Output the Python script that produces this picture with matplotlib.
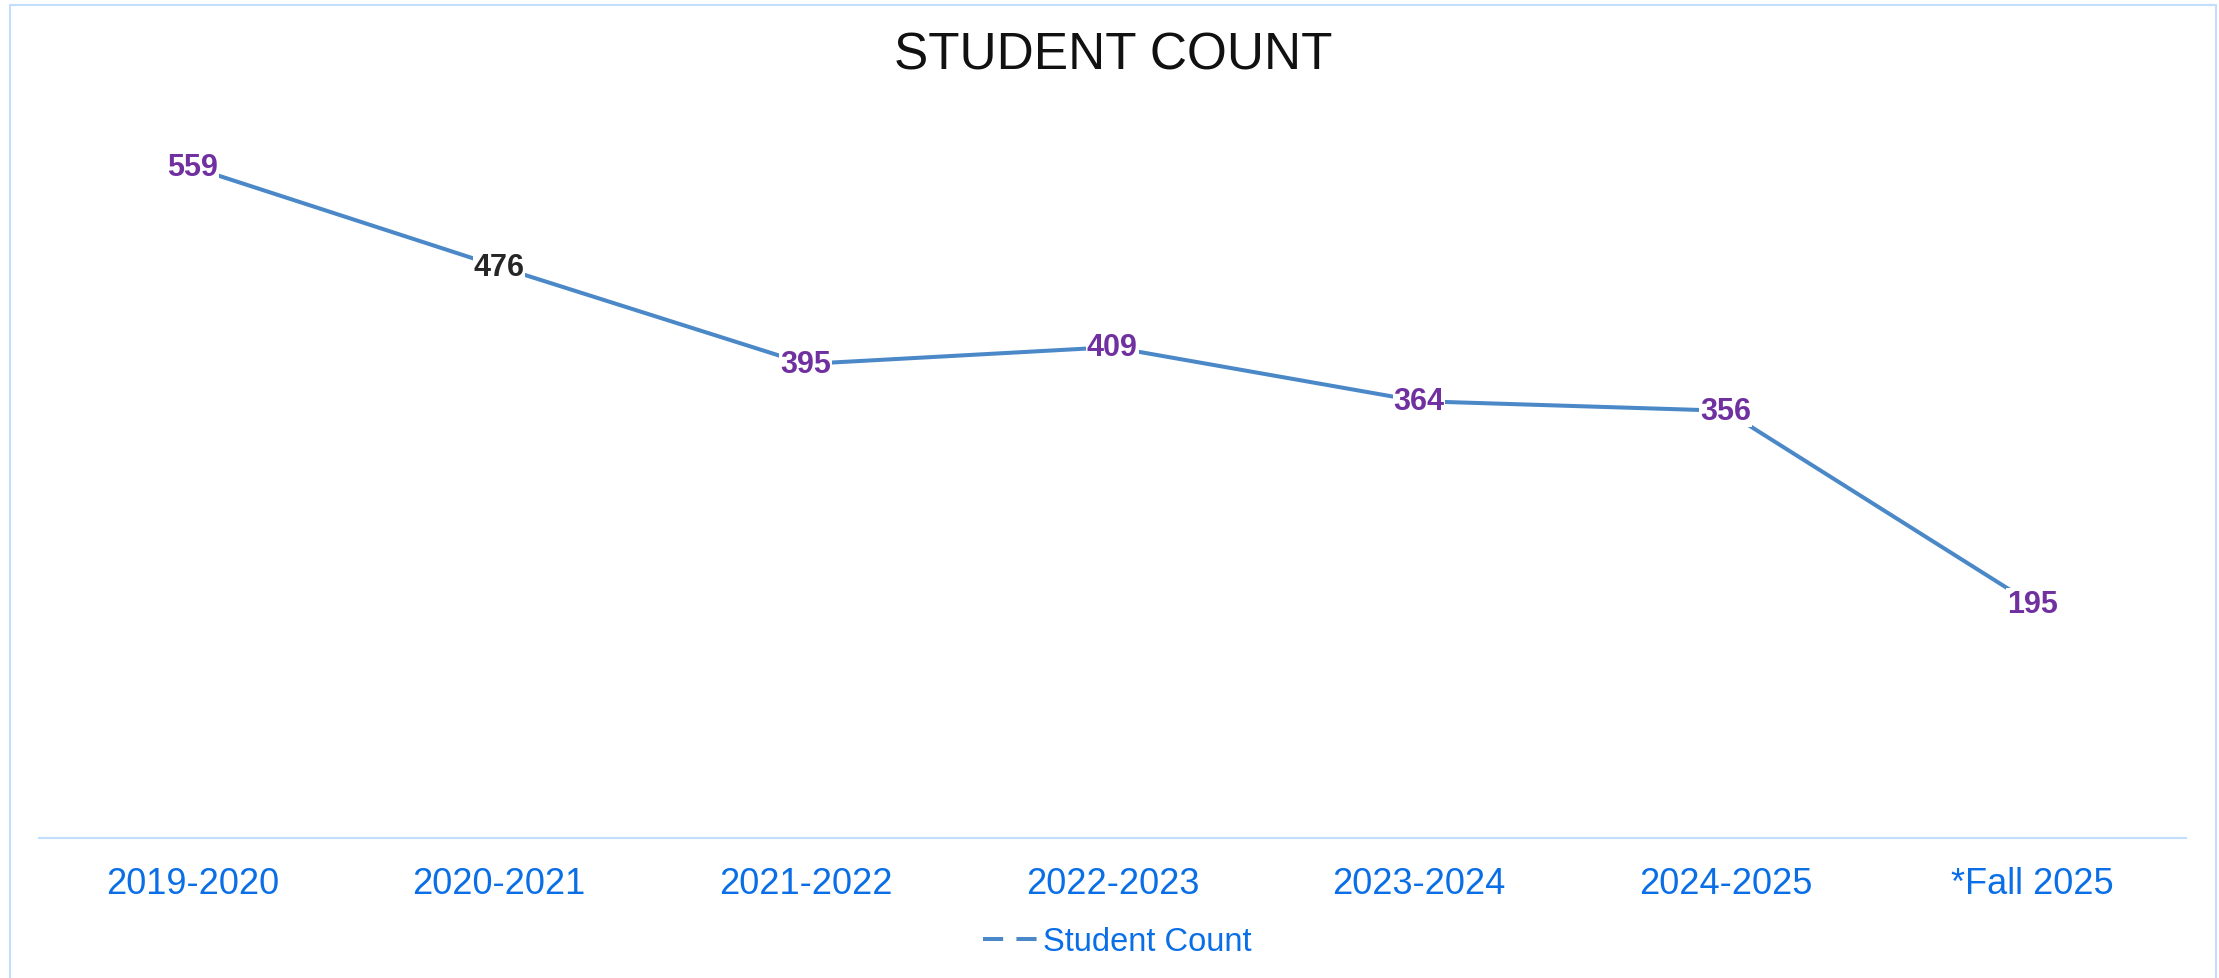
import matplotlib.pyplot as plt
from matplotlib.lines import Line2D
from matplotlib.patches import Rectangle

# data
years = ['2019-2020', '2020-2021', '2021-2022', '2022-2023', '2023-2024', '2024-2025', '*Fall 2025']
counts = [559, 476, 395, 409, 364, 356, 195]
label_colors = ['#7030A0', '#262626', '#7030A0', '#7030A0', '#7030A0', '#7030A0', '#7030A0']

plt.rcParams['font.family'] = ['Liberation Sans', 'DejaVu Sans']

line_color = '#4A88C8'
tick_color = '#0A6FE6'
border_color = '#C2DEFC'

fig = plt.figure(figsize=(22.19, 9.79), dpi=100)
ax = fig.add_axes([0.0176, 0.143, 0.9674, 0.7355])

x = list(range(len(years)))
ax.plot(x, counts, color=line_color, linewidth=2.9, solid_capstyle='butt', zorder=2)

# labels sitting on the points (white box hides the line beneath)
for xi, val, col in zip(x, counts, label_colors):
    ax.text(xi, val, str(val), ha='center', va='center', fontsize=22, fontweight='bold',
            color=col, zorder=3,
            bbox=dict(boxstyle='square,pad=0.03', facecolor='white', edgecolor='none'))

ax.set_xlim(-0.5, len(years) - 0.5)
ax.set_ylim(0, 600)
ax.set_xticks(x)
ax.set_xticklabels(years, fontsize=26, color=tick_color)
ax.tick_params(axis='x', length=0, pad=20)
ax.set_yticks([])
for s in ['top', 'right', 'left']:
    ax.spines[s].set_visible(False)
ax.spines['bottom'].set_color(border_color)
ax.spines['bottom'].set_linewidth(1.5)

fig.text(0.5015, 0.943, 'STUDENT COUNT', ha='center', va='center', fontsize=37, color='#111111')

handle = Line2D([], [], color=line_color, linewidth=2.9, linestyle=(0, (5, 3.3)))
leg = fig.legend([handle], ['Student Count'], loc='center', bbox_to_anchor=(0.5035, 0.037),
                 frameon=False, fontsize=23.5, handlelength=1.7, handletextpad=0.12)
for t in leg.get_texts():
    t.set_color(tick_color)

# outer chart border
fig.patches.append(Rectangle((10 / 2219, -0.05), 2206 / 2219, 0.05 + 973 / 979,
                             transform=fig.transFigure, fill=False,
                             edgecolor=border_color, linewidth=1.5))

plt.savefig('out.png', dpi=100)
